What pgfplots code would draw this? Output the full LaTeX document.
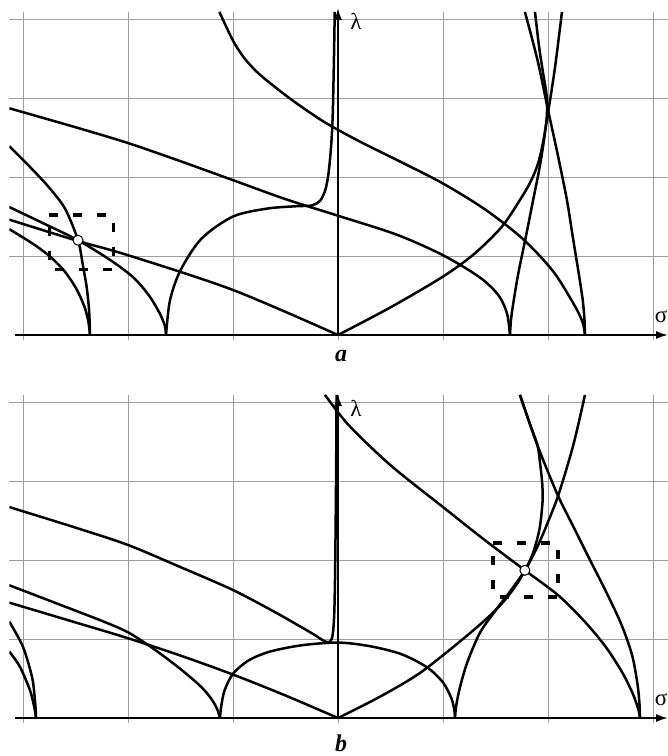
\documentclass[border=0pt]{standalone}
\usepackage{fontspec}
\setmainfont{Liberation Serif}
\usepackage{pgfplots}
\pgfplotsset{compat=1.18}
\usetikzlibrary{arrows.meta}

\pgfplotsset{
  dispaxis/.style={
    x=105pt, y=79pt,
    xmin=-3.13, xmax=3.143, ymin=-0.063, ymax=4.09,
    anchor=south west,
    axis line style={draw=none},
    major tick length=0pt,
    xtick={-3,...,3}, ytick={1,2,3,4},
    xticklabel=\empty, yticklabel=\empty,
    grid=major, grid style={black!38, line width=0.9pt},
  },
  cv/.style={black, line width=2.5pt, smooth, mark=none},
  box/.style={black, line width=3.3pt, dash pattern=on 9pt off 15pt, sharp plot, mark=none},
  knot/.style={only marks, mark=*, mark size=5pt,
    mark options={fill=white, draw=black, line width=1pt}},
}

\begin{document}
\begin{tikzpicture}
\useasboundingbox (0pt,0pt) rectangle (668pt,-756pt);

% ---- panel a
\begin{axis}[dispaxis, at={(9.35pt,-339.98pt)}]
\addplot[cv] coordinates {(-1.13,4.09) (-1.0,3.726) (-0.9,3.519) (-0.8,3.366) (-0.7,3.246) (-0.55,3.087) (-0.4,2.938) (-0.25,2.80) (-0.1,2.672) (0.2,2.454) (0.6,2.19) (1.0,1.918) (1.4,1.59) (1.76,1.217) (2.05,0.804) (2.25,0.38) (2.33,0.16) (2.352,0)};
\addplot[cv] coordinates {(-3.13,2.87) (-2.5,2.63) (-2,2.43) (-1.5,2.2) (-1,1.96) (-0.5,1.72) (0,1.51) (0.56,1.27) (1,1.01) (1.35,0.73) (1.53,0.50) (1.61,0.27) (1.638,0)};
\addplot[cv] coordinates {(-1.638,0) (-1.6,0.44) (-1.5,0.82) (-1.3,1.22) (-1.0,1.50) (-0.676,1.60) (-0.4,1.63) (-0.25,1.64) (-0.17,1.70) (-0.12,1.84) (-0.09,2.05) (-0.065,2.4) (-0.05,2.8) (-0.04,3.4) (-0.031,4.09)};
\addplot[cv] coordinates {(-3.13,2.39) (-2.95,2.15) (-2.76,1.88) (-2.6,1.6) (-2.476,1.20) (-2.432,0.9) (-2.393,0.6) (-2.37,0.3) (-2.362,0)};
\addplot[cv] coordinates {(-3.13,1.62) (-2.8,1.41) (-2.476,1.20) (-2.17,0.95) (-1.95,0.73) (-1.8,0.5) (-1.7,0.28) (-1.65,0.12) (-1.638,0)};
\addplot[cv] coordinates {(-3.13,1.46) (-2.476,1.19) (-2,1.01) (-1,0.57) (0,0)};
\addplot[cv] coordinates {(-3.13,1.34) (-2.9,1.15) (-2.74,0.99) (-2.6,0.8) (-2.486,0.57) (-2.41,0.34) (-2.375,0.15) (-2.362,0)};
\addplot[cv] coordinates {(0,0) (0.5,0.35) (1.0,0.74) (1.3,1.03) (1.56,1.37) (1.733,1.71) (1.83,1.93) (1.9,2.15) (1.95,2.42) (2.0,2.81) (2.067,3.39) (2.133,4.09)};
\addplot[cv] coordinates {(1.638,0) (1.648,0.2) (1.675,0.45) (1.72,0.8) (1.79,1.25) (1.86,1.72) (1.92,2.12) (1.965,2.5) (1.99,2.8) (1.985,3.05) (1.955,3.3) (1.915,3.65) (1.876,4.09)};
\addplot[cv] coordinates {(2.352,0) (2.347,0.2) (2.33,0.45) (2.29,0.8) (2.235,1.25) (2.18,1.71) (2.09,2.3) (2.0,2.85) (1.9,3.48) (1.78,4.09)};
\addplot[box] coordinates {(-2.75,1.52) (-2.14,1.52) (-2.14,0.83) (-2.75,0.83) (-2.75,1.52)};
\addplot[knot] coordinates {(-2.476,1.20)};
\end{axis}

% ---- panel b
\begin{axis}[dispaxis, at={(9.35pt,-722.98pt)}]
\addplot[cv] coordinates {(-0.124,4.09) (0.1,3.71) (0.5,3.2) (1.0,2.67) (1.4,2.25) (1.78,1.87) (2.1,1.55) (2.35,1.22) (2.55,0.9) (2.71,0.57) (2.81,0.3) (2.862,0.1) (2.876,0)};
\addplot[cv] coordinates {(1.733,4.09) (1.9,3.45) (2.09,2.83) (2.25,2.4) (2.4,2.0) (2.56,1.58) (2.7,1.18) (2.8,0.8) (2.85,0.45) (2.87,0.2) (2.876,0)};
\addplot[cv] coordinates {(1.114,0) (1.125,0.15) (1.16,0.38) (1.23,0.7) (1.352,1.08) (1.5,1.36) (1.638,1.6) (1.78,1.87) (1.86,2.1) (1.92,2.4) (1.948,2.74) (1.945,2.97) (1.925,3.22) (1.9,3.45) (1.82,3.75) (1.733,4.09)};
\addplot[cv] coordinates {(0,0) (0.4,0.27) (0.78,0.57) (1.19,1.0) (1.45,1.3) (1.606,1.52) (1.72,1.73) (1.82,1.96) (1.91,2.2) (1.99,2.45) (2.098,2.82) (2.24,3.45) (2.352,4.09)};
\addplot[cv] coordinates {(-3.13,2.67) (-2.5,2.41) (-2,2.19) (-1.5,1.91) (-1,1.62) (-0.6,1.34) (-0.362,1.16) (-0.22,1.05) (-0.14,0.98) (-0.09,0.96) (-0.06,1.0) (-0.045,1.12) (-0.035,1.35) (-0.028,1.8) (-0.022,2.5) (-0.017,3.3) (-0.014,4.09)};
\addplot[cv] coordinates {(-1.124,0) (-1.112,0.15) (-1.08,0.35) (-1.0,0.56) (-0.85,0.73) (-0.65,0.84) (-0.35,0.92) (0,0.955) (0.3,0.91) (0.6,0.81) (0.85,0.64) (1.0,0.45) (1.08,0.25) (1.108,0.1) (1.114,0)};
\addplot[cv] coordinates {(-3.13,1.68) (-2.6,1.41) (-2.25,1.23) (-2.0,1.085) (-1.75,0.87) (-1.5,0.62) (-1.3,0.39) (-1.2,0.23) (-1.15,0.11) (-1.124,0)};
\addplot[cv] coordinates {(-3.13,1.46) (-2.5,1.21) (-2,1.01) (-1.5,0.79) (-1,0.55) (-0.5,0.285) (0,0)};
\addplot[cv] coordinates {(-3.13,1.22) (-3.0,0.90) (-2.914,0.52) (-2.89,0.28) (-2.879,0.1) (-2.876,0)};
\addplot[cv] coordinates {(-3.13,0.84) (-3.03,0.65) (-2.933,0.35) (-2.89,0.12) (-2.876,0)};
\addplot[box] coordinates {(1.476,2.215) (2.095,2.215) (2.095,1.53) (1.476,1.53) (1.476,2.215)};
\addplot[knot] coordinates {(1.78,1.87)};
\end{axis}

% axes with arrows, labels
\tikzset{ax/.style={line width=1.8pt, -{Latex[length=12pt,width=8pt]}}}
\draw[ax] (15pt,-335pt) -- (668pt,-335pt);
\draw[ax] (338pt,-335pt) -- (338pt,-8pt);
\draw[ax] (15pt,-718pt) -- (668pt,-718pt);
\draw[ax] (338pt,-718pt) -- (338pt,-394pt);
\node at (356pt,-21pt) {\fontsize{23}{26}\selectfont λ};
\node at (356pt,-408pt) {\fontsize{23}{26}\selectfont λ};
\node at (661pt,-317pt) {\fontsize{23}{26}\selectfont σ};
\node at (661pt,-700pt) {\fontsize{23}{26}\selectfont σ};
\node at (341pt,-356pt) {\fontsize{24}{26}\selectfont\bfseries\itshape a};
\node at (341pt,-743pt) {\fontsize{24}{26}\selectfont\bfseries\itshape b};
\end{tikzpicture}
\end{document}
